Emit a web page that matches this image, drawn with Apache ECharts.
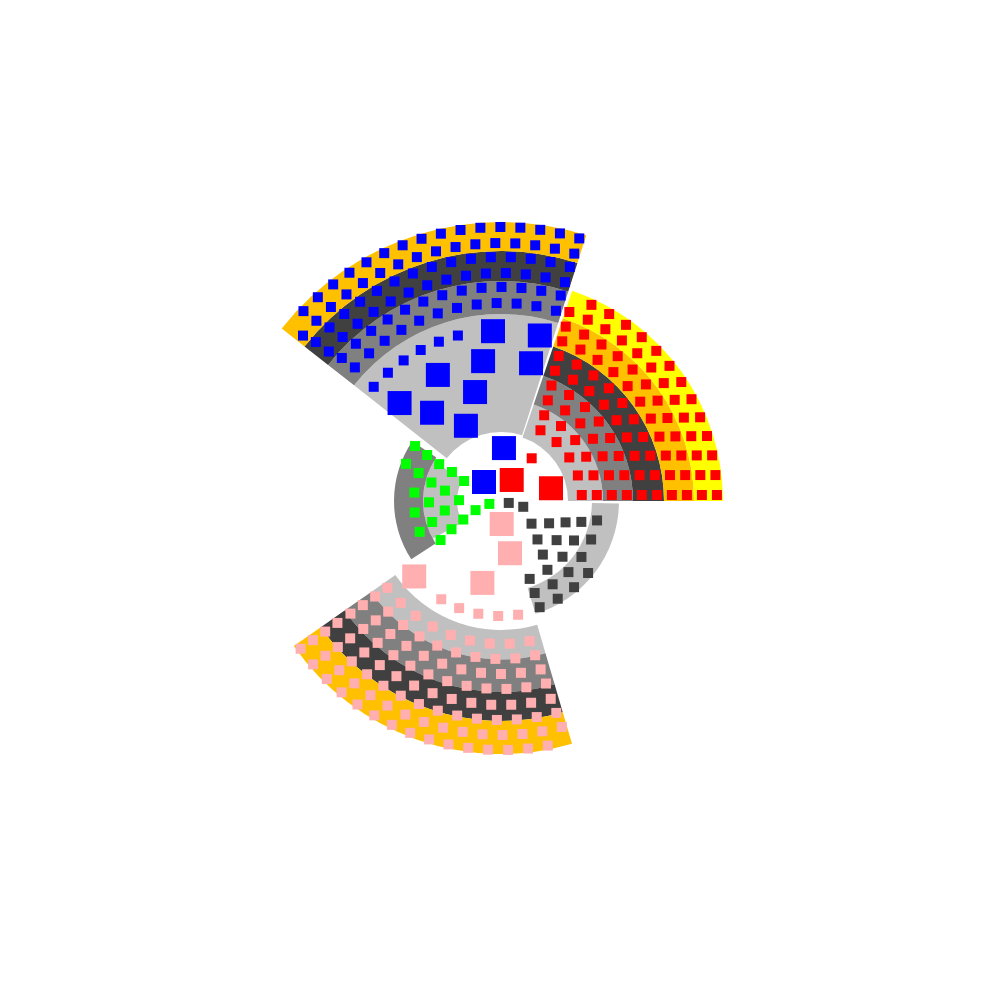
<!DOCTYPE html>
<html>
<head>
<meta charset="utf-8">
<script src="https://cdn.jsdelivr.net/npm/echarts@6/dist/echarts.min.js"></script>
<style>
html,body{margin:0;padding:0;background:#ffffff;}
#chart{width:1000px;height:1000px;}
</style>
</head>
<body>
<div id="chart"></div>
<script>
// ---------- DATA (angles in degrees counter-clockwise from east, radii in axis units) ----------
const groups = ['blue', 'red', 'pink', 'green', 'grey'];

// ring bands: [group, level, innerRadius, outerRadius, fromAngle, toAngle]
const bands = [
  ['blue', 0, 69, 187, 72.2, 141.8],
  ['blue', 1, 187, 220, 72.2, 141.8],
  ['blue', 2, 220, 250, 72.2, 141.8],
  ['blue', 3, 250, 279, 72.2, 141.8],
  ['red', 0, 67, 102, 0, 71.3],
  ['red', 1, 102, 132, 0, 71.3],
  ['red', 2, 132, 163, 0, 71.3],
  ['red', 3, 163, 193, 0, 71.3],
  ['red', 4, 193, 222, 0, 71.3],
  ['pink', 0, 129, 158.5, 215, 286.3],
  ['pink', 1, 158.5, 191, 215, 286.3],
  ['pink', 2, 191, 220, 215, 286.3],
  ['pink', 3, 220, 253, 215, 286.3],
  ['green', 0, 44, 78, 150, 209],
  ['green', 1, 78, 107, 146, 213],
  ['grey', 0, 91, 118, 287, 358.8]
];

// seat rows: [group, radius, angle of first seat, number of seats]
const seatRows = [
  ['blue', 274, 73.4, 16], ['blue', 258, 73.5, 16], ['blue', 244, 73.6, 15],
  ['blue', 228, 73.7, 14], ['blue', 214, 73.8, 13], ['blue', 198, 73.9, 12],
  ['blue', 171, 104.6, 6],
  ['red', 81, 4.25, 5], ['red', 96, 3.58, 6], ['red', 111, 3.1, 7], ['red', 126, 2.73, 8],
  ['red', 141, 2.44, 9], ['red', 156, 2.2, 10], ['red', 171, 2.01, 11], ['red', 186, 1.85, 12],
  ['red', 201, 1.71, 13], ['red', 216, 1.59, 13], ['red', 52.6, 54.3, 1],
  ['pink', 143, 217.4, 9], ['pink', 158, 217.2, 10], ['pink', 173, 217.0, 11],
  ['pink', 188, 216.8, 12], ['pink', 204, 216.7, 13], ['pink', 219, 216.6, 14],
  ['pink', 234, 216.5, 15], ['pink', 249, 216.4, 15], ['pink', 115, 238.7, 5],
  ['green', 102, 147.4, 2], ['green', 87, 148.1, 5], ['green', 72, 149.2, 5],
  ['green', 57, 149.4, 4], ['green', 42, 151.6, 3], ['green', 27, 199.8, 1], ['green', 12, 194, 1],
  ['grey', 8, 346, 1], ['grey', 23, 345.4, 1], ['grey', 38, 323.4, 1], ['grey', 53, 313.5, 2],
  ['grey', 68, 308, 3], ['grey', 83, 290.2, 5], ['grey', 98, 290.1, 6], ['grey', 113, 290, 4]
];

// large seats: [group, radius, angle]
const bigSeats = [
  ['blue', 170, 76.8], ['blue', 170, 92.7],
  ['blue', 141, 77.7], ['blue', 141, 97.3], ['blue', 141, 116.6], ['blue', 141, 136],
  ['blue', 112, 103.4], ['blue', 112, 128], ['blue', 83, 115],
  ['blue', 53, 86.8], ['blue', 25.5, 131.8],
  ['red', 23.6, 63], ['red', 51.6, 14.3],
  ['pink', 115, 221], ['pink', 84, 257.2], ['pink', 53, 279.8], ['pink', 23, 271.7]
];

// ---------- STYLE / LAYOUT ----------
const seatColor = { blue: '#0000ff', red: '#ff0000', pink: '#ffafaf', green: '#00ff00', grey: '#404040' };
const levelColor = ['#c0c0c0', '#808080', '#404040', '#ffc000', '#ffff00'];
const seatPitch = 20;   // arc distance between neighbouring seats (axis units)
const smallSize = 10, bigSize = 24;

function rowPoints(g) {
  const pts = [];
  seatRows.filter(r => r[0] === g).forEach(([, rad, a0, n]) => {
    const step = seatPitch / rad * 180 / Math.PI;
    for (let i = 0; i < n; i++) pts.push([rad, a0 + i * step]);
  });
  return pts;
}

const series = [];
series.push({
  type: 'custom',
  coordinateSystem: 'polar',
  z: 1,
  silent: true,
  data: bands.map(b => [b[2], b[3], b[4], b[5], b[1]]),
  encode: { radius: [0, 1], angle: [2, 3] },
  renderItem: function (params, api) {
    const r0 = api.value(0), r1 = api.value(1), a0 = api.value(2), a1 = api.value(3);
    const lvl = api.value(4);
    const c = api.coord([0, 0]);
    const pIn = api.coord([r0, a0]);
    const pOut0 = api.coord([r1, a0]);
    const pOut1 = api.coord([r1, a1]);
    const rin = Math.hypot(pIn[0] - c[0], pIn[1] - c[1]);
    const rout = Math.hypot(pOut0[0] - c[0], pOut0[1] - c[1]);
    const s0 = Math.atan2(pOut0[1] - c[1], pOut0[0] - c[0]);
    const s1 = Math.atan2(pOut1[1] - c[1], pOut1[0] - c[0]);
    let e = s0;
    while (e <= s1) e += Math.PI * 2;
    return {
      type: 'sector',
      shape: { cx: c[0], cy: c[1], r0: rin, r: rout, startAngle: s1, endAngle: e, clockwise: true },
      style: { fill: levelColor[lvl], stroke: null }
    };
  }
});

groups.forEach(g => {
  series.push({
    type: 'scatter', coordinateSystem: 'polar', z: 3, silent: true,
    symbol: 'rect', symbolSize: smallSize,
    itemStyle: { color: seatColor[g], opacity: 1 },
    data: rowPoints(g)
  });
  const big = bigSeats.filter(b => b[0] === g).map(b => [b[1], b[2]]);
  if (big.length) {
    series.push({
      type: 'scatter', coordinateSystem: 'polar', z: 3, silent: true,
      symbol: 'rect', symbolSize: bigSize,
      itemStyle: { color: seatColor[g], opacity: 1 },
      data: big
    });
  }
});

const chart = echarts.init(document.getElementById('chart'), null, { renderer: 'canvas' });
chart.setOption({
  animation: false,
  backgroundColor: '#ffffff',
  polar: { center: [501, 501], radius: 300 },
  angleAxis: {
    type: 'value', min: 0, max: 360, startAngle: 0, clockwise: false,
    axisLine: { show: false }, axisTick: { show: false }, axisLabel: { show: false },
    splitLine: { show: false }
  },
  radiusAxis: {
    type: 'value', min: 0, max: 300,
    axisLine: { show: false }, axisTick: { show: false }, axisLabel: { show: false },
    splitLine: { show: false }
  },
  series: series
});
</script>
</body>
</html>
